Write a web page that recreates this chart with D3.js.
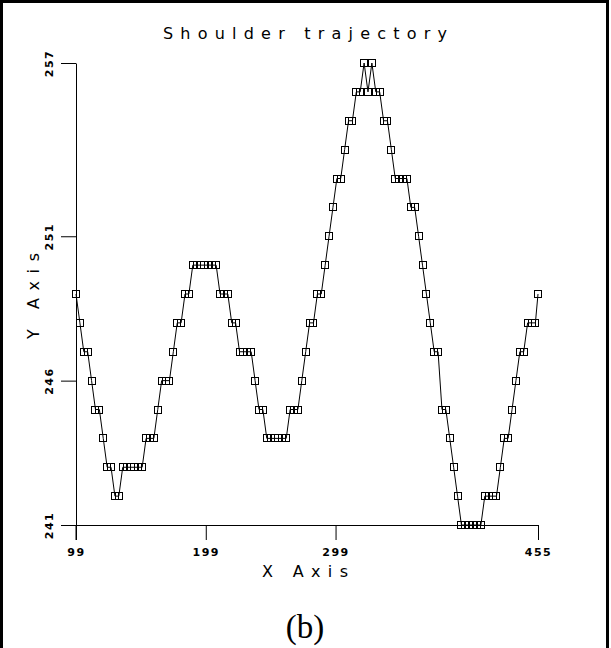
<!DOCTYPE html>
<html>
<head>
<meta charset="utf-8">
<script src="https://cdn.jsdelivr.net/npm/d3@7"></script>
<style>
  body { margin: 0; background: #fff; }
  svg { display: block; }
</style>
</head>
<body>
<div id="plot"></div>
<script>
// frame numbers (x) and shoulder position (y)
var frames = [99,102,105,108,111,114,117,120,123,126,129,132,135,138,141,144,147,150,153,156,
  159,162,165,168,171,174,177,180,183,186,189,192,195,198,201,204,207,210,213,216,
  219,222,225,228,231,234,237,240,243,246,249,252,255,258,261,264,267,270,273,276,
  279,282,285,288,291,294,297,300,303,306,309,312,315,318,321,324,327,330,333,336,
  339,342,345,348,351,354,357,360,363,366,369,372,375,378,381,384,387,390,393,396,
  399,402,405,408,411,414,417,420,423,426,429,432,435,438,441,444,447,450,453,455];

var shoulder = [249,248,247,247,246,245,245,244,243,243,242,242,243,243,243,243,243,243,244,244,
  244,245,246,246,246,247,248,248,249,249,250,250,250,250,250,250,250,249,249,249,
  248,248,247,247,247,247,246,245,245,244,244,244,244,244,244,245,245,245,246,247,
  248,248,249,249,250,251,252,253,253,254,255,255,256,256,257,256,257,256,256,255,
  255,254,253,253,253,253,252,252,251,250,249,248,247,247,245,245,244,243,242,241,
  241,241,241,241,241,242,242,242,242,243,244,244,245,246,247,247,248,248,248,249];

var xTicks = [99, 199, 299, 455];
var yTicks = [241, 246, 251, 257];

// plot box (window.top is read-only, so keep these in an object)
var box = {left: 76, right: 538, top: 63, bottom: 525};
var W = 611, H = 648;

var svg = d3.select("#plot").append("svg")
  .attr("width", W)
  .attr("height", H);

svg.append("rect")
  .attr("x", 1.5).attr("y", 1.5)
  .attr("width", 606).attr("height", 700)
  .attr("fill", "none")
  .attr("stroke", "#000")
  .attr("stroke-width", 3);

var x = d3.scaleLinear().domain([99, 455]).range([box.left, box.right]);
var y = d3.scaleLinear().domain([241, 257]).range([box.bottom, box.top]);

var tickFont = "'DejaVu Sans', sans-serif";

// x axis
var gx = svg.append("g")
  .attr("transform", "translate(0," + box.bottom + ")")
  .call(d3.axisBottom(x).tickValues(xTicks).tickFormat(d3.format("d"))
    .tickSize(15).tickSizeOuter(0).tickPadding(8));
gx.select(".domain").attr("stroke", "#000");
gx.selectAll("line").attr("stroke", "#000");
gx.selectAll("text")
  .attr("font-family", tickFont)
  .attr("font-size", 11)
  .attr("font-weight", "bold")
  .attr("letter-spacing", 1.5)
  .attr("fill", "#000");

// y axis
var gy = svg.append("g")
  .attr("transform", "translate(" + box.left + ",0)")
  .call(d3.axisLeft(y).tickValues(yTicks).tickFormat(d3.format("d"))
    .tickSize(15).tickSizeOuter(0));
gy.select(".domain").attr("stroke", "#000");
gy.selectAll("line").attr("stroke", "#000");
gy.selectAll("text")
  .attr("x", 0)
  .attr("dy", "0.35em")
  .attr("text-anchor", "middle")
  .attr("transform", "translate(-27,0) rotate(-90)")
  .attr("font-family", tickFont)
  .attr("font-size", 11)
  .attr("font-weight", "bold")
  .attr("letter-spacing", 1.5)
  .attr("fill", "#000");

// y axis line runs on below the x axis, like the other x ticks
svg.append("line")
  .attr("x1", box.left).attr("x2", box.left)
  .attr("y1", box.bottom).attr("y2", box.bottom + 15)
  .attr("stroke", "#000");

var pts = frames.map(function(f, i) { return [f, shoulder[i]]; });

svg.append("path")
  .datum(pts)
  .attr("fill", "none")
  .attr("stroke", "#000")
  .attr("stroke-width", 1)
  .attr("d", d3.line()
    .x(function(d) { return x(d[0]); })
    .y(function(d) { return y(d[1]); }));

svg.selectAll(".mark")
  .data(pts)
  .enter().append("rect")
  .attr("class", "mark")
  .attr("x", function(d) { return Math.round(x(d[0])) - 3.5; })
  .attr("y", function(d) { return Math.round(y(d[1])) - 3.5; })
  .attr("width", 7)
  .attr("height", 7)
  .attr("fill", "none")
  .attr("stroke", "#000")
  .attr("stroke-width", 1);

// titles
var labFont = "'DejaVu Sans', sans-serif";
svg.append("text")
  .attr("x", 305).attr("y", 39)
  .attr("text-anchor", "middle")
  .attr("font-family", labFont)
  .attr("font-size", 16)
  .attr("textLength", 284)
  .attr("lengthAdjust", "spacing")
  .text("Shoulder trajectory");

svg.append("text")
  .attr("x", 305).attr("y", 577)
  .attr("text-anchor", "middle")
  .attr("font-family", labFont)
  .attr("font-size", 16)
  .attr("textLength", 86)
  .attr("lengthAdjust", "spacing")
  .text("X Axis");

svg.append("text")
  .attr("transform", "translate(39,296) rotate(-90)")
  .attr("text-anchor", "middle")
  .attr("font-family", labFont)
  .attr("font-size", 16)
  .attr("textLength", 86)
  .attr("lengthAdjust", "spacing")
  .text("Y Axis");

svg.append("text")
  .attr("x", 305).attr("y", 638)
  .attr("text-anchor", "middle")
  .attr("font-family", "'Liberation Serif', serif")
  .attr("font-size", 33)
  .text("(b)");
</script>
</body>
</html>
